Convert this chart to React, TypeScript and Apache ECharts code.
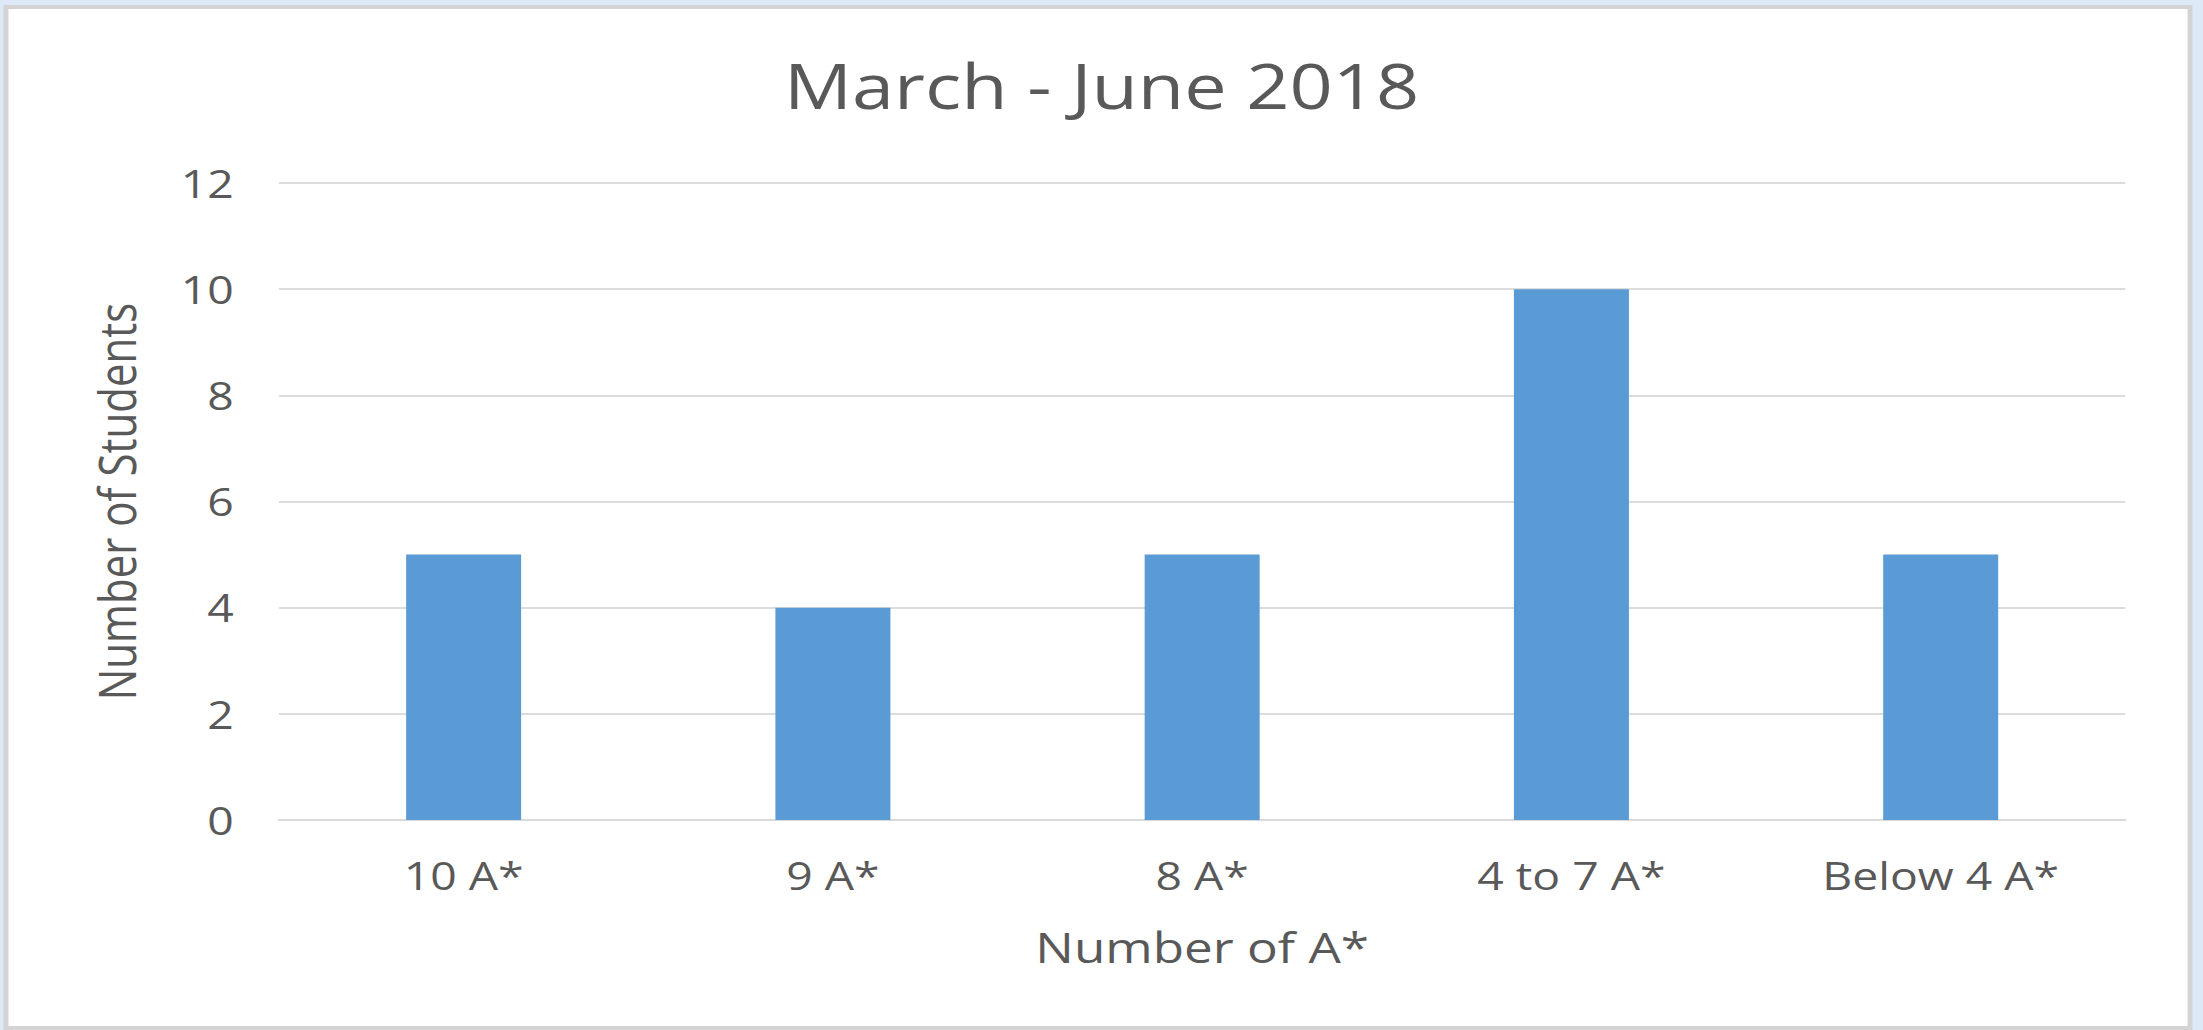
import React, { useEffect, useRef } from "react";
import * as echarts from "echarts";

const categories = ["10 A*", "9 A*", "8 A*", "4 to 7 A*", "Below 4 A*"];
const studentCounts = [5, 4, 5, 10, 5];
const yTicks = { min: 0, max: 12, interval: 2 };
const chartTitle = "March - June 2018";
const xAxisTitle = "Number of A*";
const yAxisTitle = "Number of Students";

const STRETCH = 1.22;
const FULL_W = 2203;
const FULL_H = 1030;
const W = FULL_W / STRETCH;

export default function App() {
  const ref = useRef<HTMLDivElement>(null);
  useEffect(() => {
    document.body.style.margin = "0";
    document.body.style.background = "#dde9f7";
    if (!ref.current) return;
    const chart = echarts.init(ref.current, undefined, { renderer: "svg" });
    const font = "'Open Sans', 'Noto Sans', sans-serif";
    const textColor = "#595959";
    chart.setOption({
      animation: false,
      backgroundColor: "#dde9f7",
      textStyle: { fontFamily: font },
      graphic: [
        {
          type: "rect",
          z: -10,
          shape: { x: 6 / STRETCH, y: 7, width: 2184 / STRETCH, height: 1021 },
          style: { fill: "#ffffff", stroke: "#d4d4d4", lineWidth: 4 },
        },
      ],
      title: {
        text: chartTitle,
        left: "center",
        top: 54,
        padding: 0,
        textStyle: {
          fontFamily: font,
          fontSize: 62,
          fontWeight: "normal",
          color: textColor,
        },
      },
      grid: {
        left: 279 / STRETCH,
        right: W - 2125 / STRETCH,
        top: 183,
        bottom: FULL_H - 820,
        containLabel: false,
      },
      xAxis: {
        type: "category",
        data: categories,
        name: xAxisTitle,
        nameLocation: "middle",
        nameGap: 106,
        nameTextStyle: { fontFamily: font, fontSize: 42, color: textColor },
        axisLine: { show: true, lineStyle: { color: "#d9d9d9", width: 2 } },
        axisTick: { show: false },
        axisLabel: { fontFamily: font, fontSize: 38, color: textColor, margin: 36 },
      },
      yAxis: {
        type: "value",
        min: yTicks.min,
        max: yTicks.max,
        interval: yTicks.interval,
        name: yAxisTitle,
        nameLocation: "middle",
        nameGap: 112,
        nameTextStyle: { fontFamily: font, fontSize: 42, color: textColor },
        axisLine: { show: false },
        axisTick: { show: false },
        axisLabel: { fontFamily: font, fontSize: 38, color: textColor, margin: 37 },
        splitLine: { lineStyle: { color: "#dcdcdc", width: 2 } },
      },
      series: [
        {
          type: "bar",
          data: studentCounts,
          barWidth: 115 / STRETCH,
          itemStyle: { color: "#5b9bd5" },
        },
      ],
    });
    return () => chart.dispose();
  }, []);
  return (
    <div
      ref={ref}
      style={{
        width: W + "px",
        height: FULL_H + "px",
        transform: `scaleX(${STRETCH})`,
        transformOrigin: "0 0",
      }}
    />
  );
}
